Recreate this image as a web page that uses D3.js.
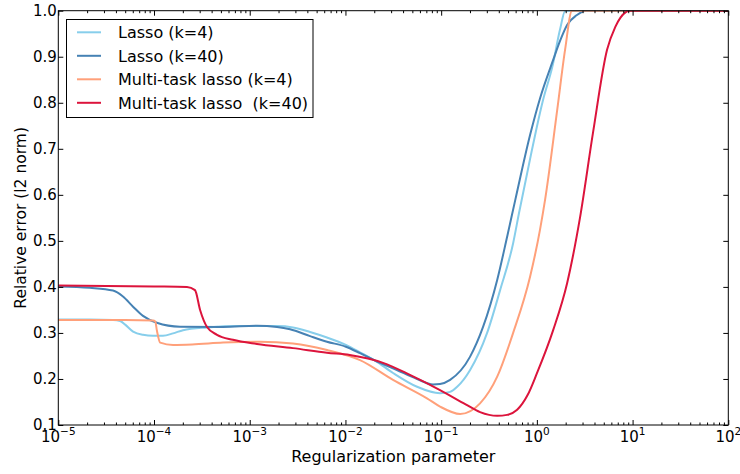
<!DOCTYPE html>
<html>
<head>
<meta charset="utf-8">
<script src="https://cdn.jsdelivr.net/npm/d3@7"></script>
<style>
  body { margin: 0; background: #fff; }
  text { font-family: "DejaVu Sans", sans-serif; fill: #000; }
</style>
</head>
<body>
<svg id="chart" width="740" height="474"></svg>
<script>
// [regularization parameter, relative error]
var lasso4 = [
  [1e-5, 0.329], [2.14e-5, 0.329], [3.73e-5, 0.328], [4.42e-5, 0.326], [5.0e-5, 0.318],
  [6.04e-5, 0.303], [7.67e-5, 0.296], [9.77e-5, 0.294], [1.24e-4, 0.294], [1.58e-4, 0.299],
  [2.01e-4, 0.306], [3.58e-4, 0.312], [7.93e-4, 0.315], [1.93e-3, 0.315], [2.83e-3, 0.312],
  [4.27e-3, 0.302], [6.41e-3, 0.29], [1.01e-2, 0.274], [1.42e-2, 0.258], [2.04e-2, 0.24],
  [3.14e-2, 0.213], [5.6e-2, 0.183], [9.73e-2, 0.169], [0.124, 0.172], [0.147, 0.183],
  [0.2, 0.219], [0.302, 0.30], [0.413, 0.393], [0.565, 0.495], [0.65, 0.56],
  [0.849, 0.678], [1.0, 0.748], [1.16, 0.806], [1.45, 0.878], [1.75, 0.96], [1.98, 1.0], [100, 1.0]
];
var lasso40 = [
  [1e-5, 0.401], [2.14e-5, 0.398], [3.73e-5, 0.392], [4.74e-5, 0.379], [6.04e-5, 0.357],
  [7.67e-5, 0.337], [1.07e-4, 0.322], [1.87e-4, 0.3135], [5.26e-4, 0.313], [1.19e-3, 0.3155],
  [1.93e-3, 0.313], [2.64e-3, 0.308], [4.27e-3, 0.293], [6.41e-3, 0.281], [1.01e-2, 0.27],
  [1.42e-2, 0.256], [2.04e-2, 0.24], [3.4e-2, 0.22], [5.6e-2, 0.2], [8.22e-2, 0.188],
  [9.73e-2, 0.189], [0.124, 0.198], [0.2, 0.248], [0.274, 0.313], [0.385, 0.415],
  [0.489, 0.509], [0.595, 0.589], [0.849, 0.73], [1.08, 0.81], [1.48, 0.893],
  [1.75, 0.935], [2.07, 0.969], [2.6, 0.99], [3.3, 1.0], [100, 1.0]
];
var multi4 = [
  [1e-5, 0.328], [5e-5, 0.328], [9.77e-5, 0.327], [1.03e-4, 0.325], [1.07e-4, 0.306],
  [1.16e-4, 0.279], [1.58e-4, 0.274], [2.5e-4, 0.275], [5.26e-4, 0.279], [1.28e-3, 0.281],
  [2.83e-3, 0.277], [6.41e-3, 0.263], [1.42e-2, 0.241], [3.14e-2, 0.198], [7.11e-2, 0.158],
  [9.73e-2, 0.14], [0.158, 0.124], [0.255, 0.147], [0.385, 0.205], [0.565, 0.30],
  [0.849, 0.422], [1.08, 0.525], [1.22, 0.59], [1.63, 0.784], [1.97, 0.915],
  [2.33, 1.0], [100, 1.0]
];
var multi40 = [
  [1e-5, 0.403], [1e-4, 0.401], [2.21e-4, 0.400], [2.68e-4, 0.393], [3.03e-4, 0.35],
  [3.58e-4, 0.313], [4.55e-4, 0.296], [6.68e-4, 0.285], [1.19e-3, 0.276], [2.83e-3, 0.267],
  [6.41e-3, 0.257], [1.11e-2, 0.252], [2.47e-2, 0.235], [4.72e-2, 0.209], [9.73e-2, 0.176],
  [0.18, 0.145], [0.255, 0.128], [0.385, 0.12], [0.489, 0.122], [0.622, 0.133],
  [0.8, 0.165], [1.0, 0.212], [1.48, 0.306], [2.07, 0.408], [2.82, 0.55],
  [3.86, 0.735], [5.41, 0.915], [6.6, 0.965], [8.5, 0.997], [9.2, 1.0], [100, 1.0]
];

var seriesNames = ["Lasso (k=4)", "Lasso (k=40)", "Multi-task lasso (k=4)", "Multi-task lasso  (k=40)"];
var seriesColors = ["#87ceeb", "#4682b4", "#ffa07a", "#dc143c"];
var xTickExps = [-5, -4, -3, -2, -1, 0, 1, 2];
var yTicks = [0.1, 0.2, 0.3, 0.4, 0.5, 0.6, 0.7, 0.8, 0.9, 1.0];
var xLabel = "Regularization parameter";
var yLabel = "Relative error (l2 norm)";

var series = [lasso4, lasso40, multi4, multi40];

var svg = d3.select("#chart");
var x = d3.scaleLog().domain([1e-5, 1e2]).range([58.3, 728.3]);
var y = d3.scaleLinear().domain([0.1, 1.0]).range([425, 10.7]);

var x0 = x.range()[0], x1 = x.range()[1], y0 = y.range()[1], y1 = y.range()[0];

svg.append("clipPath").attr("id", "plotclip")
  .append("rect").attr("x", x0).attr("y", y0).attr("width", x1 - x0).attr("height", y1 - y0);

var line = d3.line()
  .x(function (d) { return x(d[0]); })
  .y(function (d) { return y(d[1]); })
  .curve(d3.curveMonotoneX);

svg.append("g").attr("clip-path", "url(#plotclip)")
  .selectAll("path").data(series).enter().append("path")
  .attr("d", line)
  .attr("fill", "none")
  .attr("stroke", function (d, i) { return seriesColors[i]; })
  .attr("stroke-width", 2)
  .attr("stroke-linejoin", "round");

// ticks, pointing inward on all four sides
var majors = xTickExps.map(function (e) { return Math.pow(10, e); });
var minors = [];
xTickExps.slice(0, -1).forEach(function (e) {
  for (var m = 2; m < 10; m++) minors.push(m * Math.pow(10, e));
});

function tidy(g) {
  g.select(".domain").remove();
  g.selectAll(".tick line").attr("stroke", "#000");
}

svg.append("g").attr("transform", "translate(0," + y1 + ")")
  .call(d3.axisBottom(x).tickValues(majors).tickSize(-5).tickFormat("")).call(tidy);
svg.append("g").attr("transform", "translate(0," + y1 + ")")
  .call(d3.axisBottom(x).tickValues(minors).tickSize(-2.5).tickFormat("")).call(tidy);
svg.append("g").attr("transform", "translate(0," + y0 + ")")
  .call(d3.axisTop(x).tickValues(majors).tickSize(-5).tickFormat("")).call(tidy);
svg.append("g").attr("transform", "translate(0," + y0 + ")")
  .call(d3.axisTop(x).tickValues(minors).tickSize(-2.5).tickFormat("")).call(tidy);
svg.append("g").attr("transform", "translate(" + x0 + ",0)")
  .call(d3.axisLeft(y).tickValues(yTicks).tickSize(-5).tickFormat("")).call(tidy);
svg.append("g").attr("transform", "translate(" + x1 + ",0)")
  .call(d3.axisRight(y).tickValues(yTicks).tickSize(-5).tickFormat("")).call(tidy);

svg.append("rect")
  .attr("x", x0).attr("y", y0).attr("width", x1 - x0).attr("height", y1 - y0)
  .attr("fill", "none").attr("stroke", "#000").attr("stroke-width", 1);

// tick labels
svg.append("g").selectAll("text").data(yTicks).enter().append("text")
  .attr("x", x0 - 1.5).attr("y", function (d) { return y(d); })
  .attr("dy", "0.36em").attr("text-anchor", "end").attr("font-size", 15)
  .text(function (d) { return d.toFixed(1); });

var xl = svg.append("g").selectAll("text").data(xTickExps).enter().append("text")
  .attr("x", function (d) { return x(Math.pow(10, d)); }).attr("y", 442)
  .attr("text-anchor", "middle").attr("font-size", 15);
xl.append("tspan").text("10");
xl.append("tspan").attr("font-size", 10.5).attr("dy", -7)
  .text(function (d) { return d < 0 ? "\u2212" + (-d) : d; });

// axis labels
svg.append("text").attr("x", (x0 + x1) / 2).attr("y", 462)
  .attr("text-anchor", "middle").attr("font-size", 16).text(xLabel);
svg.append("text").attr("transform", "translate(26," + (y0 + y1) / 2 + ") rotate(-90)")
  .attr("text-anchor", "middle").attr("font-size", 15.5).text(yLabel);

// legend
var lg = svg.append("g");
lg.append("rect").attr("x", 66.5).attr("y", 19.5).attr("width", 246.5).attr("height", 98)
  .attr("fill", "#fff").attr("stroke", "#000");
var row = lg.selectAll("g.row").data(seriesNames).enter().append("g")
  .attr("transform", function (d, i) { return "translate(0," + (32.3 + i * 23.5) + ")"; });
row.append("line").attr("x1", 77).attr("x2", 101)
  .attr("stroke", function (d, i) { return seriesColors[i]; }).attr("stroke-width", 2);
row.append("text").attr("x", 118).attr("dy", "0.36em").attr("font-size", 16)
  .style("white-space", "pre").text(function (d) { return d; });
</script>
</body>
</html>
